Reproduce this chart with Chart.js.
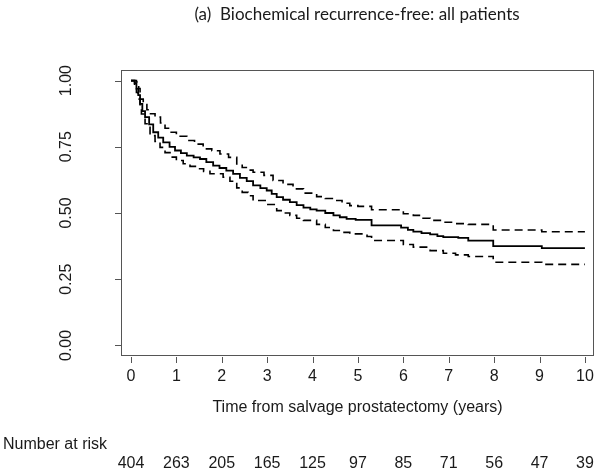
<!DOCTYPE html>
<html>
<head>
<meta charset="utf-8">
<script src="https://cdn.jsdelivr.net/npm/chart.js@4"></script>
<style>
html,body{margin:0;padding:0;background:#fff;}
#wrap{width:600px;height:473px;position:relative;}
</style>
</head>
<body>
<div id="wrap"><canvas id="c" width="600" height="473"></canvas></div>
<script>
// ---- Data ----
const titleText = "(a)  Biochemical recurrence-free: all patients";
const xAxisTitle = "Time from salvage prostatectomy (years)";
const xTicks = [0, 1, 2, 3, 4, 5, 6, 7, 8, 9, 10];
const yTicks = [0, 0.25, 0.5, 0.75, 1.0];
const yTickLabels = ["0.00", "0.25", "0.50", "0.75", "1.00"];
const riskTimes = [0, 1, 2, 3, 4, 5, 6, 7, 8, 9, 10];
const riskCounts = [404, 263, 205, 165, 125, 97, 85, 71, 56, 47, 39];

const mainTimes = [0, 0.08, 0.12, 0.16, 0.2, 0.25, 0.31, 0.4, 0.49, 0.6, 0.71, 0.85, 0.97, 1.1, 1.23, 1.38, 1.52, 1.66, 1.81, 1.95, 2.1, 2.25, 2.4, 2.55, 2.69, 2.85, 2.99, 3.1, 3.21, 3.35, 3.5, 3.65, 3.8, 3.95, 4.09, 4.28, 4.46, 4.6, 4.75, 4.95, 5.3, 5.95, 6.1, 6.22, 6.4, 6.59, 6.75, 6.88, 7.21, 7.43, 7.98, 9.05, 10];
const mainSurv  = [1.0, 0.99, 0.97, 0.945, 0.912, 0.885, 0.862, 0.835, 0.805, 0.785, 0.767, 0.75, 0.736, 0.726, 0.717, 0.71, 0.704, 0.692, 0.679, 0.67, 0.66, 0.648, 0.633, 0.62, 0.604, 0.594, 0.585, 0.572, 0.56, 0.55, 0.541, 0.53, 0.52, 0.514, 0.509, 0.5, 0.491, 0.484, 0.478, 0.474, 0.453, 0.445, 0.436, 0.43, 0.424, 0.419, 0.413, 0.409, 0.406, 0.396, 0.375, 0.367, 0.367];

const upperTimes = [0, 0.12, 0.17, 0.2, 0.27, 0.35, 0.43, 0.53, 0.65, 0.75, 0.86, 1.0, 1.23, 1.4, 1.59, 1.78, 1.96, 2.15, 2.33, 2.45, 2.58, 2.69, 2.93, 3.13, 3.35, 3.57, 3.8, 4.09, 4.28, 4.46, 4.65, 4.82, 5.0, 5.3, 6.0, 6.22, 6.4, 6.59, 6.88, 7.15, 7.43, 7.98, 9.05, 10];
const upperSurv  = [1.0, 0.995, 0.97, 0.93, 0.91, 0.89, 0.875, 0.862, 0.84, 0.82, 0.805, 0.79, 0.774, 0.76, 0.742, 0.735, 0.723, 0.71, 0.685, 0.672, 0.662, 0.654, 0.642, 0.623, 0.608, 0.591, 0.575, 0.562, 0.555, 0.547, 0.537, 0.528, 0.525, 0.512, 0.497, 0.491, 0.48, 0.472, 0.465, 0.46, 0.457, 0.436, 0.429, 0.429];

const lowerTimes = [0, 0.08, 0.12, 0.16, 0.2, 0.23, 0.31, 0.42, 0.53, 0.64, 0.75, 0.86, 1.0, 1.15, 1.3, 1.45, 1.6, 1.74, 2.03, 2.18, 2.33, 2.45, 2.58, 2.69, 2.99, 3.21, 3.35, 3.5, 3.65, 3.8, 4.09, 4.28, 4.46, 4.65, 4.82, 5.2, 5.3, 6.0, 6.22, 6.59, 6.88, 7.15, 7.43, 7.98, 9.05, 10];
const lowerSurv  = [1.0, 0.98, 0.955, 0.93, 0.9, 0.874, 0.837, 0.792, 0.77, 0.748, 0.728, 0.711, 0.698, 0.686, 0.676, 0.667, 0.657, 0.648, 0.635, 0.62, 0.595, 0.578, 0.565, 0.547, 0.532, 0.509, 0.5, 0.491, 0.48, 0.472, 0.457, 0.445, 0.434, 0.427, 0.421, 0.411, 0.396, 0.381, 0.371, 0.358, 0.348, 0.342, 0.336, 0.314, 0.306, 0.306];

const toPts = (t, s) => t.map((v, i) => ({x: v, y: s[i]}));

const axisFont = '16px "Liberation Sans", Arial, sans-serif';
const textColor = '#1a1a1a';
const frameColor = '#555';

const decor = {
  id: 'decor',
  afterDraw(chart) {
    const ctx = chart.ctx, a = chart.chartArea;
    const xs = chart.scales.x, ys = chart.scales.y;
    ctx.save();
    // box
    ctx.strokeStyle = frameColor; ctx.lineWidth = 1;
    ctx.strokeRect(a.left + 0.5, a.top + 0.5, a.right - a.left - 1, a.bottom - a.top - 1);
    // y ticks
    ctx.beginPath();
    yTicks.forEach(v => {
      const y = Math.round(ys.getPixelForValue(v)) + 0.5;
      ctx.moveTo(a.left - 6, y); ctx.lineTo(a.left, y);
    });
    // x ticks
    xTicks.forEach(v => {
      const x = Math.round(xs.getPixelForValue(v)) + 0.5;
      ctx.moveTo(x, a.bottom + 1); ctx.lineTo(x, a.bottom + 7);
    });
    ctx.stroke();
    ctx.fillStyle = textColor;
    ctx.font = axisFont;
    // y tick labels (rotated)
    ctx.textAlign = 'center'; ctx.textBaseline = 'middle';
    yTicks.forEach((v, i) => {
      const y = ys.getPixelForValue(v);
      ctx.save();
      ctx.translate(67, y);
      ctx.rotate(-Math.PI / 2);
      ctx.fillText(yTickLabels[i], 0, 0);
      ctx.restore();
    });
    // x tick labels
    xTicks.forEach(v => {
      ctx.fillText(String(v), xs.getPixelForValue(v), 377);
    });
    // x axis title
    ctx.fillText(xAxisTitle, (a.left + a.right) / 2, 408);
    // number at risk
    ctx.textAlign = 'left';
    ctx.fillText('Number at risk', 3, 445);
    ctx.textAlign = 'center';
    riskTimes.forEach((t, i) => {
      ctx.fillText(String(riskCounts[i]), xs.getPixelForValue(t), 464);
    });
    // title
    ctx.font = '17px Lato, "Open Sans", sans-serif';
    ctx.fillText(titleText, 357, 15);
    ctx.restore();
  }
};

new Chart(document.getElementById('c'), {
  type: 'line',
  data: {
    datasets: [
      {label: 'KM', data: toPts(mainTimes, mainSurv), stepped: true, borderColor: '#000', borderWidth: 1.8, pointRadius: 0, fill: false},
      {label: 'Upper 95% CI', data: toPts(upperTimes, upperSurv), stepped: true, borderColor: '#000', borderWidth: 1.6, borderDash: [8, 5], pointRadius: 0, fill: false},
      {label: 'Lower 95% CI', data: toPts(lowerTimes, lowerSurv), stepped: true, borderColor: '#000', borderWidth: 1.6, borderDash: [8, 5], pointRadius: 0, fill: false}
    ]
  },
  options: {
    responsive: false,
    animation: false,
    layout: {padding: {left: 121, right: 6, top: 70, bottom: 117}},
    plugins: {legend: {display: false}, tooltip: {enabled: false}, title: {display: false}},
    scales: {
      x: {type: 'linear', min: -0.22, max: 10.2, display: false},
      y: {type: 'linear', min: -0.04, max: 1.04, display: false}
    }
  },
  plugins: [decor]
});
</script>
</body>
</html>
